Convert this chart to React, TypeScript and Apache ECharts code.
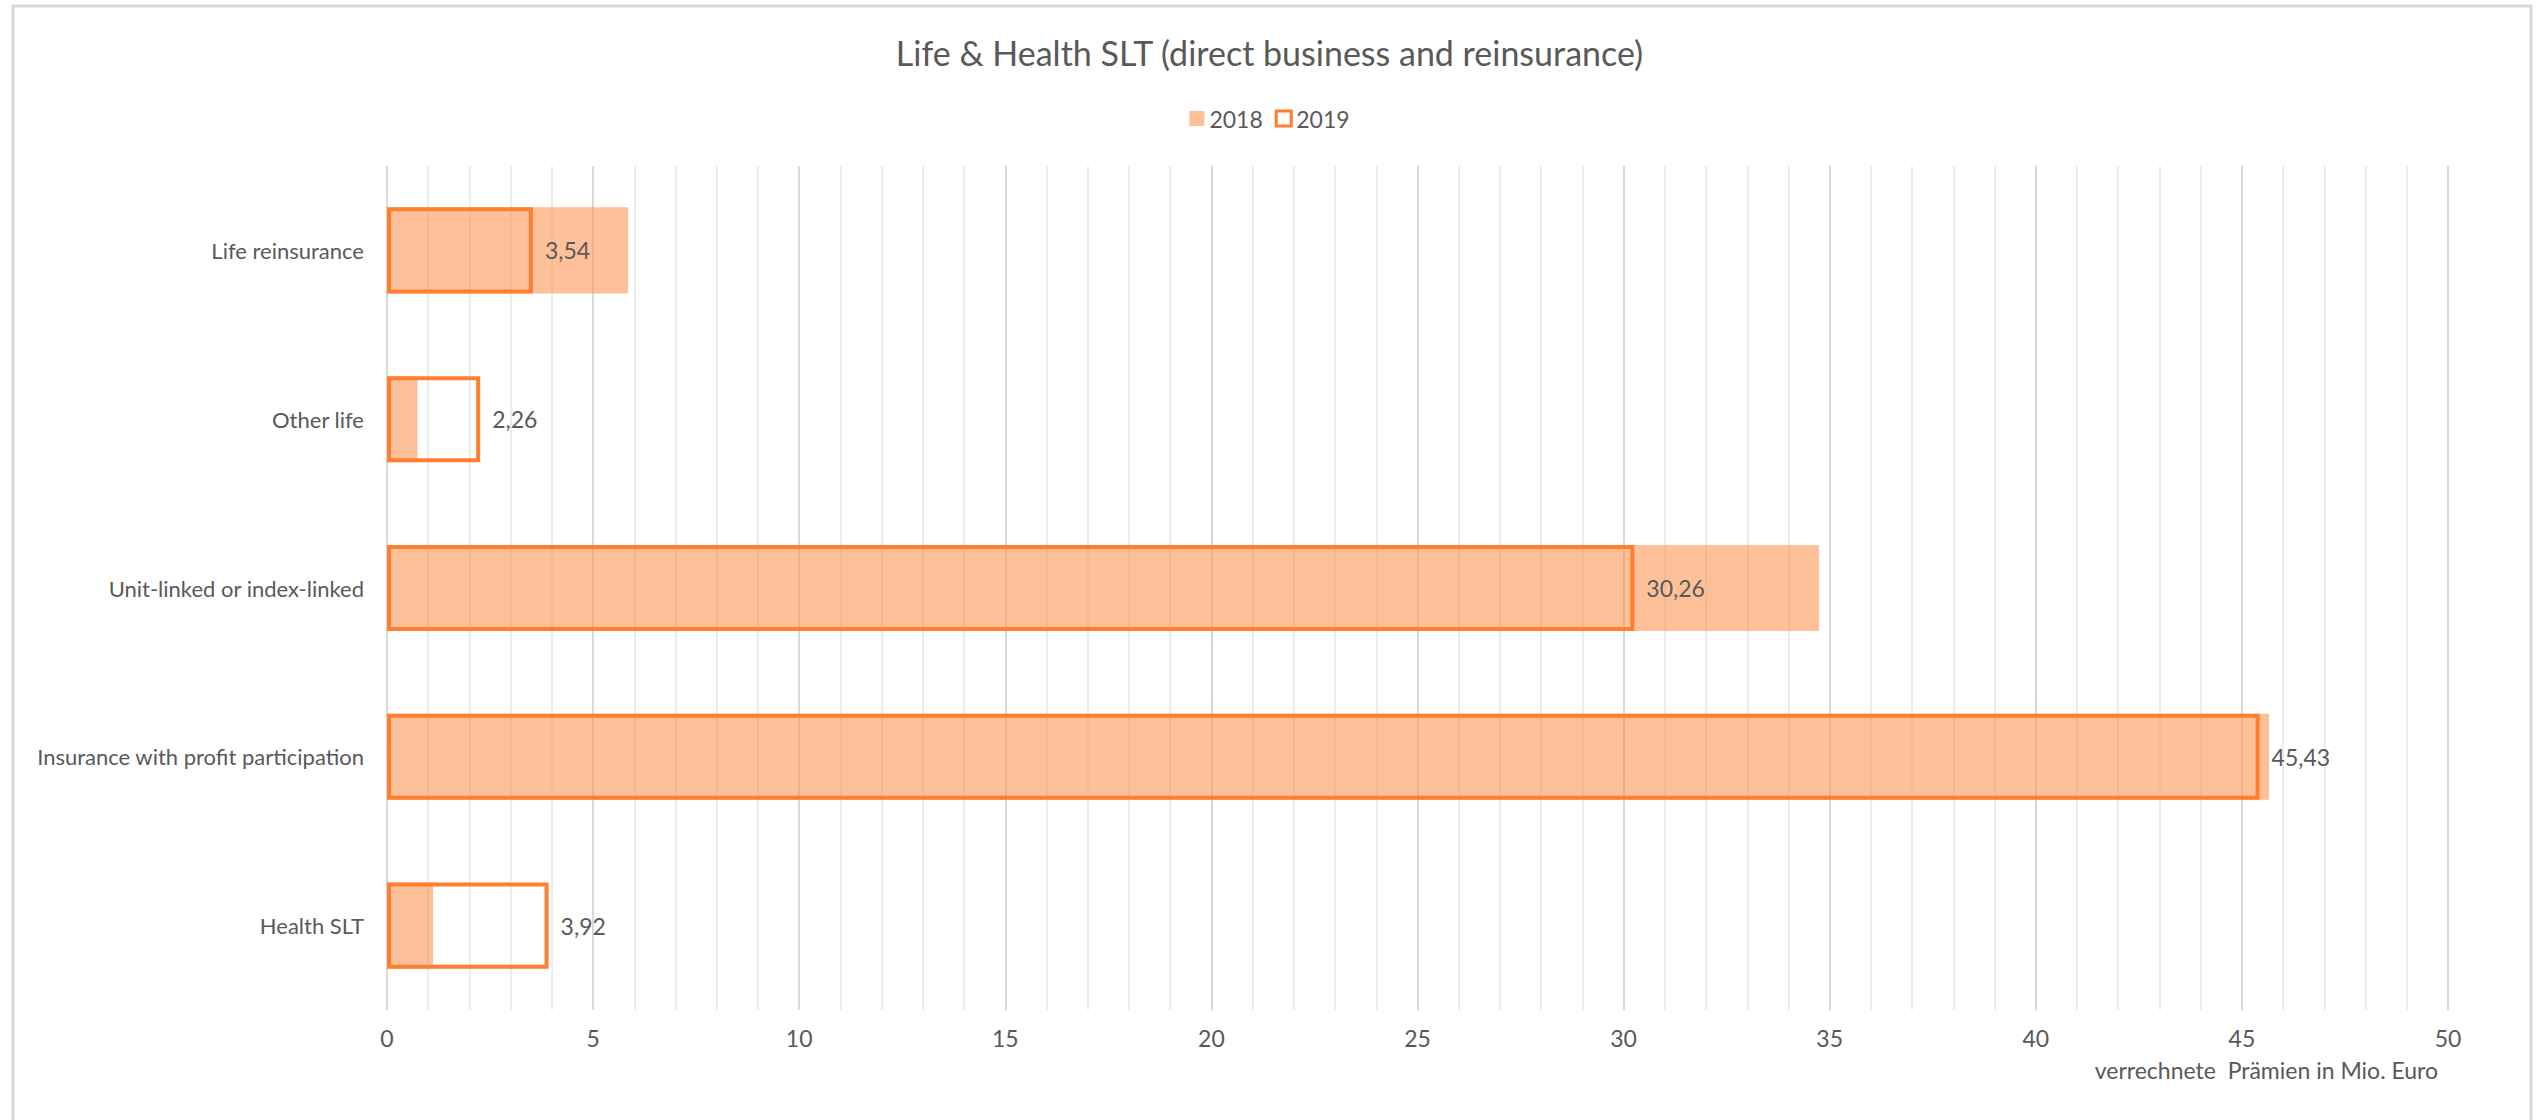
import React, { useEffect, useRef } from "react";
import * as echarts from "echarts";

const categories = [
  "Health SLT",
  "Insurance with profit participation",
  "Unit-linked or index-linked",
  "Other life",
  "Life reinsurance",
];
const values2018 = [1.12, 45.66, 34.74, 0.74, 5.85];
const values2019 = [3.92, 45.43, 30.26, 2.26, 3.54];
const seriesNames = ["2018", "2019"];
const titleText = "Life & Health SLT (direct business and reinsurance)";
const axisTitle = "verrechnete  Prämien in Mio. Euro";

const FONT = "Lato, 'Open Sans', sans-serif";
const GRAY = "#595959";
const ORANGE = "#FF7F2F";
const PEACH = "rgba(251,140,70,0.55)";
const FS = 23;

export default function App() {
  const ref = useRef<HTMLDivElement>(null);
  useEffect(() => {
    if (!ref.current) return;
    const chart = echarts.init(ref.current, null, { renderer: "svg" });
    const fmt = (v: number) => v.toFixed(2).replace(".", ",");
    chart.setOption({
      animation: false,
      backgroundColor: "#fff",
      title: {
        text: titleText,
        left: "center",
        top: 30,
        textStyle: { fontFamily: FONT, fontSize: 34, fontWeight: "normal", color: GRAY },
      },
      legend: {
        top: 102,
        left: "center",
        itemWidth: 15,
        itemHeight: 15,
        itemGap: 12,
        textStyle: { fontFamily: FONT, fontSize: FS, color: GRAY },
        data: [
          { name: seriesNames[0], icon: "rect", itemStyle: { color: PEACH } },
          {
            name: seriesNames[1],
            icon: "rect",
            itemStyle: { color: "#fff", borderColor: ORANGE, borderWidth: 3 },
          },
        ],
      },
      grid: { left: 387, right: 91, top: 166, bottom: 110, containLabel: false },
      xAxis: {
        type: "value",
        min: 0,
        max: 50,
        interval: 5,
        axisLine: { show: false },
        axisTick: { show: false },
        axisLabel: { fontFamily: FONT, fontSize: FS, color: GRAY, margin: 16 },
        splitLine: { show: true, lineStyle: { color: "#D9D9D9", width: 2 } },
        minorTick: { show: false, splitNumber: 5 },
        minorSplitLine: { show: true, lineStyle: { color: "#EDEDED", width: 2 } },
      },
      yAxis: {
        type: "category",
        data: categories,
        axisLine: { show: false },
        axisTick: { show: false },
        axisLabel: { fontFamily: FONT, fontSize: FS - 1, color: GRAY, margin: 23 },
        splitLine: { show: false },
      },
      series: [
        {
          name: seriesNames[0],
          type: "bar",
          data: values2018,
          barWidth: "51%",
          barGap: "-100%",
          itemStyle: { color: PEACH },
        },
        {
          name: seriesNames[1],
          type: "bar",
          data: values2019,
          barWidth: "51%",
          barGap: "-100%",
          itemStyle: { color: "rgba(0,0,0,0)", borderColor: ORANGE, borderWidth: 4 },
          label: {
            show: true,
            position: "right",
            distance: 12,
            formatter: (p: any) => fmt(p.value),
            fontFamily: FONT,
            fontSize: FS,
            color: GRAY,
          },
        },
      ],
      graphic: [
        {
          type: "rect",
          shape: { x: 13, y: 6, width: 2518, height: 1140 },
          style: { fill: "none", stroke: "#D9D9D9", lineWidth: 3 },
          silent: true,
        },
        {
          type: "text",
          right: 2539 - 2438,
          top: 1058,
          style: { text: axisTitle, fontFamily: FONT, fontSize: FS, fill: GRAY },
        },
      ],
    });
    return () => chart.dispose();
  }, []);
  return (
    <div
      ref={ref}
      style={{ position: "absolute", left: 0, top: 0, width: 2539, height: 1120 }}
    />
  );
}
